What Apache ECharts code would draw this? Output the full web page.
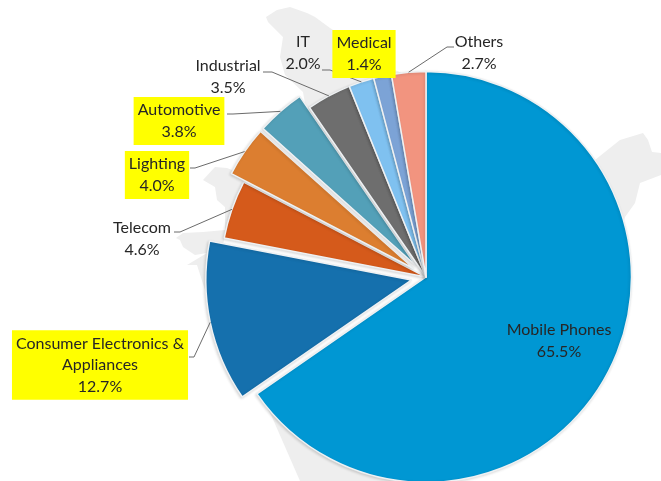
<!DOCTYPE html>
<html>
<head>
<meta charset="utf-8">
<style>html,body{margin:0;padding:0;background:#fff}#chart{width:661px;height:481px}</style>
<script src="https://cdn.jsdelivr.net/npm/echarts@6/dist/echarts.min.js"></script>
</head>
<body>
<div id="chart"></div>
<script>
// Segment names, shares in percent and fill colours, clockwise from twelve o'clock
const segments = ['Mobile Phones', 'Consumer Electronics &\nAppliances', 'Telecom', 'Lighting', 'Automotive', 'Industrial', 'IT', 'Medical', 'Others'];
const shares = [65.5, 12.7, 4.6, 4.0, 3.8, 3.5, 2.0, 1.4, 2.7];
const colours = ['#0097D3', '#1570AD', '#D55A1B', '#DC7E30', '#53A0B8', '#6E6E6E', '#7FC1F0', '#7CA3D6', '#F2947F'];
// Segments pulled out of the pie, and segments whose captions are highlighted
const pulledOut = ['Consumer Electronics &\nAppliances', 'Lighting', 'Automotive'];
const highlighted = ['Consumer Electronics &\nAppliances', 'Lighting', 'Automotive', 'Medical'];

const pieCentre = [426, 277];
const pieRadius = 205.5;
const pullDistance = 15;

// Caption centres and the elbow of each leader: [x, y, elbowX, elbowY, endX]
const captionPlacement = [
  [559, 341],
  [100, 365, 194, 357, 189],
  [142, 239, 180, 232, 174],
  [157, 175, 195, 168, 190],
  [179, 121, 233, 114, 227],
  [228, 77, 272, 72, 263],
  [303, 53, 330, 70, 322],
  [364, 54],
  [479, 53, 447, 47, 454]
];

// Outline of the pale country map sitting behind the pie
const mapOutline = [[266,17],[277,10],[290,7],[307,13],[315,17],[330,28],[395,70],[595,160],[620,140],[643,133],[648,140],[652,152],[661,153],[661,175],[640,183],[635,203],[625,217],[600,300],[450,481],[300,481],[272,417],[205,290],[197,265],[187,265],[207,253],[195,255],[183,247],[180,240],[176,238],[183,233],[203,232],[225,230],[225,207],[217,200],[215,187],[203,180],[215,167],[227,168],[232,170],[320,190],[303,92],[285,75],[280,57],[283,37],[268,22]];

// Leader start: the slice's outer edge, pushed out along its radius when it is pulled out
function leaderStart(params, pulled) {
  const a = params.labelLinePoints[0];
  if (!pulled) return a;
  const dx = a[0] - pieCentre[0], dy = a[1] - pieCentre[1], len = Math.hypot(dx, dy);
  return [a[0] + dx / len * pullDistance, a[1] + dy / len * pullDistance];
}

const chart = echarts.init(document.getElementById('chart'));
chart.setOption({
  animation: false,
  backgroundColor: '#fff',
  graphic: [
    {
      type: 'polygon',
      silent: true,
      z: 0,
      shape: { points: mapOutline },
      style: { fill: '#EEEEEE' }
    },
    // White disc so the gaps between slices stay clear of the map
    {
      type: 'circle',
      silent: true,
      z: 1,
      shape: { cx: pieCentre[0], cy: pieCentre[1], r: pieRadius },
      style: { fill: '#FFFFFF' }
    }
  ],
  series: [
    // The visible slices
    {
      type: 'pie',
      z: 3,
      center: pieCentre,
      radius: pieRadius,
      startAngle: 90,
      selectedMode: 'multiple',
      selectedOffset: pullDistance,
      emphasis: { disabled: true },
      label: { show: false },
      labelLine: { show: false },
      itemStyle: {
        borderColor: '#EEF1F3',
        borderWidth: 1.5,
        shadowColor: 'rgba(0,0,0,0.14)',
        shadowBlur: 3,
        shadowOffsetX: -1,
        shadowOffsetY: 1
      },
      data: segments.map((name, i) => ({
        name: name,
        value: shares[i],
        selected: pulledOut.includes(name),
        itemStyle: { color: colours[i] }
      }))
    },
    // Unfilled copy of the same pie that carries the captions and leaders
    {
      type: 'pie',
      z: 4,
      silent: true,
      center: pieCentre,
      radius: pieRadius,
      startAngle: 90,
      avoidLabelOverlap: false,
      emphasis: { disabled: true },
      itemStyle: { color: 'transparent' },
      label: {
        show: true,
        position: 'outside',
        formatter: function (p) { return p.name + '\n' + p.value.toFixed(1) + '%'; },
        fontFamily: 'Lato',
        fontSize: 16,
        lineHeight: 21.5,
        color: '#262626',
        align: 'center'
      },
      labelLine: { show: true, lineStyle: { color: '#6b6b6b', width: 1 } },
      labelLayout: function (params) {
        const p = captionPlacement[params.dataIndex];
        const out = { x: p[0], y: p[1], align: 'center', verticalAlign: 'middle' };
        if (p.length > 2) {
          const pulled = pulledOut.includes(segments[params.dataIndex]);
          out.labelLinePoints = [leaderStart(params, pulled), [p[2], p[3]], [p[4], p[3]]];
        }
        return out;
      },
      data: segments.map((name, i) => ({
        name: name,
        value: shares[i],
        labelLine: { show: captionPlacement[i].length > 2 },
        label: highlighted.includes(name)
          ? { backgroundColor: '#FFFF00', padding: [3, 4, 2, 4] }
          : {}
      }))
    }
  ]
});
</script>
</body>
</html>
